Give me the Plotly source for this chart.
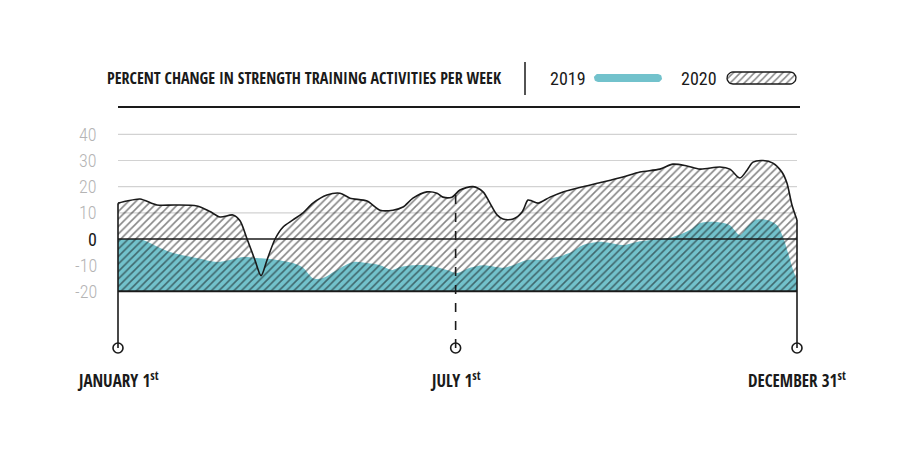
import numpy as np
import plotly.graph_objects as go

# ---------------- data ----------------
days_2020 = [0, 4.8, 11.8, 20.9, 30.6, 42.3, 49.3, 54.7, 61.6, 65.4, 69.2, 73.4, 76.7, 79.9,
             84.2, 88.5, 93.8, 99.2, 104.5, 112, 119, 124.4, 133.5, 140.5, 147.4, 152.8,
             158.1, 165.6, 171, 174.2, 179, 183.3, 190.3, 195.7, 199.4, 203.2, 206.4, 211.8,
             216.6, 219.8, 221.9, 225.2, 231.6, 238.6, 249.3, 260, 270.7, 279.8, 290.5,
             297.5, 305, 312, 322.7, 328, 333.4, 337.2, 340.4, 345.8, 351.1, 355.9, 358.6,
             361.3, 364]
vals_2020 = [13.7, 14.5, 15.3, 13, 13, 12.6, 10.5, 8.4, 9.2, 7, 0, -8, -14, -8,
             0, 4.6, 7.3, 10, 13.7, 16.8, 17.5, 15.6, 14.5, 11, 11, 12.2,
             15.6, 18, 17.5, 16, 16, 18.7, 20, 18, 13.7, 9.2, 7.6, 7.6,
             10.3, 14.9, 14.5, 13.7, 16, 18, 20, 21.8, 23.7, 25.6, 26.7,
             28.6, 27.9, 26.7, 27.5, 26.7, 23.3, 26.3, 29.4, 30, 29, 25.6, 21.4,
             13, 7.3]

days_2019 = [0, 6.4, 13.4, 19.8, 27.9, 42.3, 53.1, 60, 67, 74.5, 85.2, 93.8, 99.2, 104.5,
             109.4, 117.4, 126, 133.5, 140.5, 146.9, 151.2, 158.1, 165.6, 176.4, 181.7,
             188.7, 195.7, 203.2, 206.4, 211.8, 219.3, 227.8, 235.3, 242.3, 249.3, 256.8,
             263.8, 270.7, 278.2, 285.2, 297.5, 306.6, 312, 321.1, 328, 333.4, 337.2,
             341.5, 347.9, 353.3, 356.5, 359.2, 361.9, 364]
vals_2019 = [0, 0, -0.4, -2.5, -5, -7.3, -8.8, -8, -6.9, -7.3, -8, -9.2, -11, -15,
             -15, -11.8, -8.8, -9.2, -10, -11.8, -10.7, -10, -10, -11.8, -13,
             -11, -10, -10.7, -11, -10, -8, -8, -6.9, -5.3, -2.3, -1.1,
             -1.5, -2.3, -1.1, -0.4, 0.8, 3.4, 6.1, 6.5, 5.3, 1.5, 4.6,
             7.3, 7.3, 5.3, 0.8, -5.3, -11.8, -15.6]

y_tick_vals = [40, 30, 20, 10, 0, -10, -20]
grid_vals = [10, 20, 30, 40]
date_days = [0, 181, 364]
date_labels = ["JANUARY 1<sup>st</sup>", "JULY 1<sup>st</sup>", "DECEMBER 31<sup>st</sup>"]
series_names = ["2019", "2020"]
TITLE = "PERCENT CHANGE IN STRENGTH TRAINING ACTIVITIES PER WEEK"
BASE = -20

# ---------------- styling / geometry ----------------
W, H = 900, 450
TEAL = "#72c2cc"
INK = "#1a1a1a"
GRID = "#d2d2d2"
TICKGRAY = "#b4b4b4"
FONT = "Roboto Condensed, DejaVu Sans Condensed, sans-serif"
FONT_BOLD = "Open Sans Condensed, Roboto Condensed, sans-serif"

X0PX, X1PX = 118, 797      # pixel of day 0 and day 364
Y0PX, PXU = 239, 2.617     # pixel of value 0, pixels per unit


def px2x(px):
    return (px - X0PX) * 364.0 / (X1PX - X0PX)


def py2y(py):
    return (Y0PX - py) / PXU


xr = [px2x(0), px2x(W)]
yr = [py2y(H), py2y(0)]
DOT_Y = py2y(348)


def pill(px0, px1, pyc, h, n=14):
    r = h / 2.0
    xs, ys = [], []
    for t in np.linspace(-np.pi / 2, np.pi / 2, n):
        xs.append(px2x(px1 - r + r * np.cos(t)))
        ys.append(py2y(pyc + r * np.sin(t)))
    for t in np.linspace(np.pi / 2, 3 * np.pi / 2, n):
        xs.append(px2x(px0 + r + r * np.cos(t)))
        ys.append(py2y(pyc + r * np.sin(t)))
    xs.append(xs[0])
    ys.append(ys[0])
    return xs, ys


hatch = dict(shape="/", size=5.3, solidity=0.3, fgcolor="#0d0d0d",
             bgcolor="rgba(0,0,0,0)", fillmode="overlay")

fig = go.Figure()

# 2019 area (teal)
fig.add_trace(go.Scatter(x=[days_2019[0], days_2019[-1]], y=[BASE, BASE], mode="lines",
                         line=dict(width=0), hoverinfo="skip", showlegend=False))
fig.add_trace(go.Scatter(x=days_2019, y=vals_2019, mode="lines", name=series_names[0],
                         line=dict(width=0, shape="spline", smoothing=0.8, color=TEAL),
                         fill="tonexty", fillcolor=TEAL, showlegend=False))

# 2020 area (hatched)
fig.add_trace(go.Scatter(x=[days_2020[0], days_2020[-1]], y=[BASE, BASE], mode="lines",
                         line=dict(width=0), hoverinfo="skip", showlegend=False))
fig.add_trace(go.Scatter(x=days_2020, y=vals_2020, mode="lines", name=series_names[1],
                         line=dict(width=1.6, shape="spline", smoothing=0.8, color=INK),
                         fill="tonexty", fillcolor="rgba(0,0,0,0)", fillpattern=hatch,
                         showlegend=False))

# legend pills
tx, ty = pill(594, 662, 78, 8)
fig.add_trace(go.Scatter(x=tx, y=ty, mode="lines", fill="toself", fillcolor=TEAL,
                         line=dict(width=0, color=TEAL), hoverinfo="skip", showlegend=False))
hx, hy = pill(727, 796, 78, 12)
fig.add_trace(go.Scatter(x=hx, y=hy, mode="lines", fill="toself", fillcolor="rgba(0,0,0,0)",
                         fillpattern=dict(shape="/", size=5, solidity=0.3, fgcolor="#0d0d0d",
                                          bgcolor="rgba(0,0,0,0)"),
                         line=dict(width=1.3, color=INK), hoverinfo="skip", showlegend=False))

shapes = []
for g in grid_vals:
    shapes.append(dict(type="line", x0=0, x1=364, y0=g, y1=g, layer="below",
                       line=dict(color=GRID, width=1.2)))
shapes.append(dict(type="line", x0=0, x1=364, y0=0, y1=0, line=dict(color=INK, width=1.5)))
shapes.append(dict(type="line", x0=0, x1=364, y0=BASE, y1=BASE, line=dict(color=INK, width=2)))
# vertical date lines
top_vals = [float(np.interp(d, days_2020, vals_2020)) for d in date_days]
for i, d in enumerate(date_days):
    shapes.append(dict(type="line", x0=d, x1=d, y0=DOT_Y, y1=top_vals[i],
                       line=dict(color=INK, width=1.6, dash="dash" if i == 1 else "solid")))
# title underline & separator
shapes.append(dict(type="line", x0=0, x1=px2x(800), y0=py2y(107), y1=py2y(107),
                   line=dict(color=INK, width=2)))
shapes.append(dict(type="line", x0=px2x(525), x1=px2x(525), y0=py2y(62), y1=py2y(95),
                   line=dict(color=INK, width=1.5)))

# dots
fig.add_trace(go.Scatter(x=date_days, y=[DOT_Y] * len(date_days), mode="markers",
                         marker=dict(size=10, color="white", line=dict(color=INK, width=1.6)),
                         hoverinfo="skip", showlegend=False))

annotations = []
for v in y_tick_vals:
    annotations.append(dict(x=px2x(99), y=v, text=str(v), showarrow=False, xanchor="right",
                            yanchor="middle",
                            font=dict(family=FONT, size=18, weight=300 if v != 0 else 400,
                                      color=INK if v == 0 else TICKGRAY)))
for d, lab in zip(date_days, date_labels):
    annotations.append(dict(x=d, y=py2y(379), text=lab, showarrow=False,
                            xanchor="center", yanchor="middle",
                            font=dict(family=FONT_BOLD, size=17, weight=700, color=INK)))
annotations.append(dict(x=px2x(105), y=py2y(78), text=TITLE, showarrow=False, xanchor="left",
                        yanchor="middle",
                        font=dict(family=FONT_BOLD, size=16, weight=700, color=INK)))
annotations.append(dict(x=px2x(568), y=py2y(78), text=series_names[0], showarrow=False,
                        xanchor="center", yanchor="middle",
                        font=dict(family=FONT, size=18, color=INK)))
annotations.append(dict(x=px2x(699), y=py2y(78), text=series_names[1], showarrow=False,
                        xanchor="center", yanchor="middle",
                        font=dict(family=FONT, size=18, color=INK)))

fig.update_layout(
    width=W, height=H, margin=dict(l=0, r=0, t=0, b=0),
    paper_bgcolor="white", plot_bgcolor="white",
    xaxis=dict(range=xr, visible=False, fixedrange=True),
    yaxis=dict(range=yr, visible=False, fixedrange=True),
    shapes=shapes, annotations=annotations, showlegend=False,
)

fig.write_html("out.html", config={"displayModeBar": False},
               post_script="document.body.style.margin='0';")
